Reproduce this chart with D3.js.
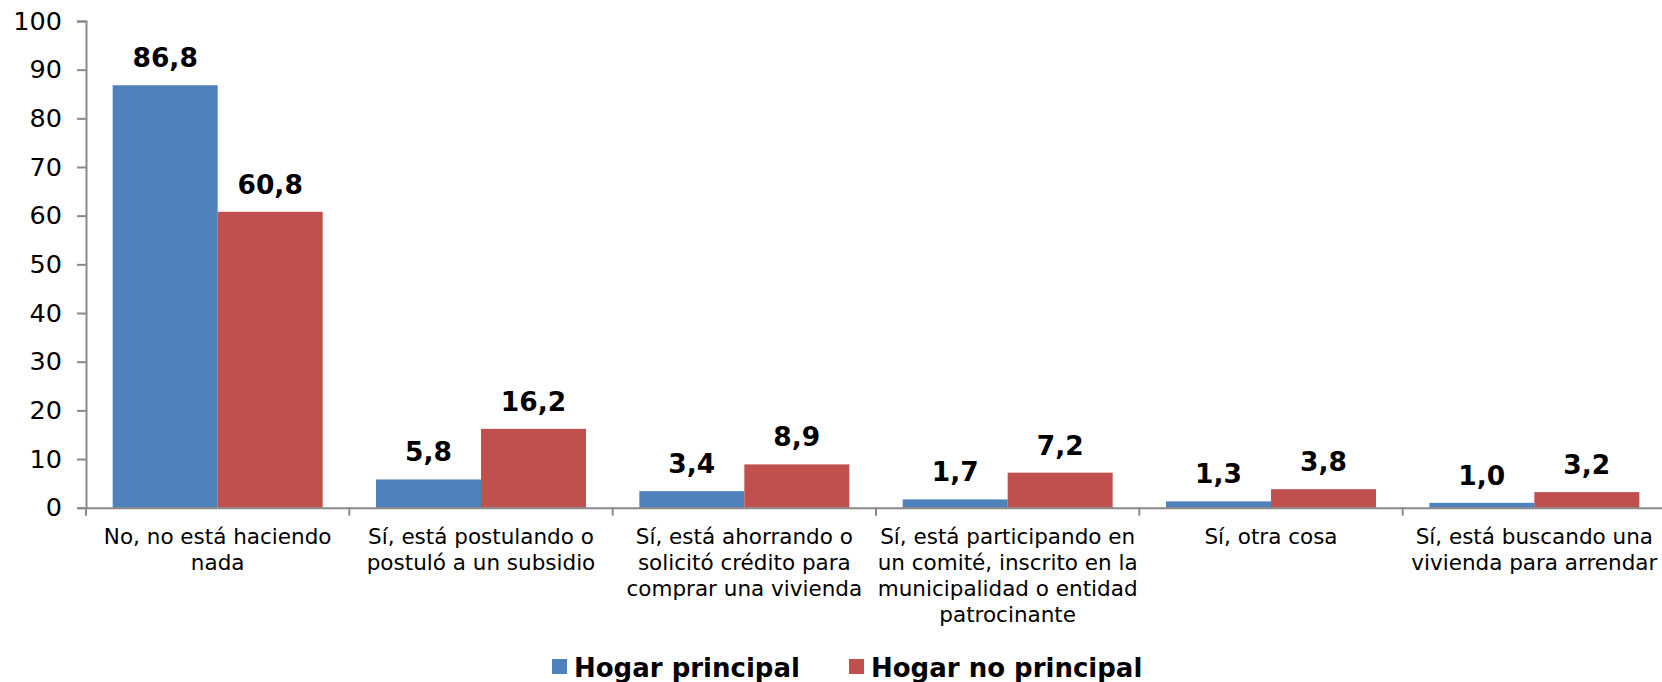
<!DOCTYPE html>
<html>
<head>
<meta charset="utf-8">
<script src="https://cdn.jsdelivr.net/npm/d3@7"></script>
<style>
  html, body { margin: 0; padding: 0; background: #fff; }
  svg { display: block; }
  text { font-family: "DejaVu Sans", Verdana, sans-serif; fill: #000; }
</style>
</head>
<body>
<svg id="chart" width="1662" height="682"></svg>
<script>
const categories = [
  "No, no está haciendo\nnada",
  "Sí, está postulando o\npostuló a un subsidio",
  "Sí, está ahorrando o\nsolicitó crédito para\ncomprar una vivienda",
  "Sí, está participando en\nun comité, inscrito en la\nmunicipalidad o entidad\npatrocinante",
  "Sí, otra cosa",
  "Sí, está buscando una\nvivienda para arrendar"
];
const seriesNames = ["Hogar principal", "Hogar no principal"];
const hogarPrincipal = [86.8, 5.8, 3.4, 1.7, 1.3, 1.0];
const hogarNoPrincipal = [60.8, 16.2, 8.9, 7.2, 3.8, 3.2];
const yTicks = [0, 10, 20, 30, 40, 50, 60, 70, 80, 90, 100];
const colors = ["#4F81BD", "#C0504D"];

const seriesValues = [hogarPrincipal, hogarNoPrincipal];
const svg = d3.select("#chart");
const axisColor = "#898989";

const x0 = d3.scaleBand().domain(categories).range([86, 1666]).paddingInner(0).paddingOuter(0);
const x1 = d3.scaleBand().domain(seriesNames).range([0, x0.bandwidth()]).paddingInner(0).paddingOuter(0.254);
const y = d3.scaleLinear().domain([0, 100]).range([507.7, 21]);

const fmt = v => v.toFixed(1).replace(".", ",");

// bars
const groups = svg.append("g").selectAll("g")
  .data(categories)
  .join("g")
  .attr("transform", d => `translate(${x0(d)},0)`);

groups.selectAll("rect")
  .data((d, i) => seriesNames.map((s, j) => ({ s, v: seriesValues[j][i], j })))
  .join("rect")
  .attr("x", d => x1(d.s))
  .attr("y", d => y(d.v))
  .attr("width", x1.bandwidth())
  .attr("height", d => y(0) - y(d.v))
  .attr("fill", d => colors[d.j]);

groups.selectAll("text.val")
  .data((d, i) => seriesNames.map((s, j) => ({ s, v: seriesValues[j][i], j })))
  .join("text")
  .attr("class", "val")
  .attr("x", d => x1(d.s) + x1.bandwidth() / 2)
  .attr("y", d => y(d.v) - 18)
  .attr("text-anchor", "middle")
  .style("font-size", "26.5px")
  .style("font-weight", "bold")
  .text(d => fmt(d.v));

// y axis
const yAxis = svg.append("g")
  .attr("transform", "translate(86,0)")
  .call(d3.axisLeft(y).tickValues(yTicks).tickSize(9).tickPadding(15).tickFormat(d3.format("d")));
yAxis.select(".domain").attr("stroke", axisColor).attr("stroke-width", 2);
yAxis.selectAll(".tick line").attr("stroke", axisColor).attr("stroke-width", 2);
yAxis.selectAll(".tick text").style("font-size", "25.5px").attr("fill", "#000")
  .style("font-family", "'DejaVu Sans', Verdana, sans-serif");

// x axis
const xAxis = svg.append("g")
  .attr("transform", `translate(0,${y(0)})`)
  .call(d3.axisBottom(x0).tickSize(0).tickFormat(""));
xAxis.select(".domain").attr("stroke", axisColor).attr("stroke-width", 2);
xAxis.selectAll(".tick").remove();

const boundaries = categories.map(c => x0(c)).concat([x0.range()[1]]);
xAxis.selectAll("line.bt")
  .data(boundaries)
  .join("line")
  .attr("class", "bt")
  .attr("x1", d => d).attr("x2", d => d)
  .attr("y1", 0).attr("y2", 8)
  .attr("stroke", axisColor).attr("stroke-width", 2);

// category labels
const catLabels = svg.append("g").selectAll("text")
  .data(categories)
  .join("text")
  .attr("x", d => x0(d) + x0.bandwidth() / 2)
  .attr("y", y(0) + 36)
  .attr("text-anchor", "middle")
  .style("font-size", "21.5px");
catLabels.each(function(d) {
  const t = d3.select(this);
  d.split("\n").forEach((line, i) => {
    t.append("tspan")
      .attr("x", x0(d) + x0.bandwidth() / 2)
      .attr("dy", i === 0 ? 0 : 26)
      .text(line);
  });
});

// legend
const legendX = [552, 849];
const legend = svg.append("g").selectAll("g")
  .data(seriesNames)
  .join("g")
  .attr("transform", (d, i) => `translate(${legendX[i]},0)`);
legend.append("rect")
  .attr("x", 0).attr("y", 659)
  .attr("width", 15).attr("height", 15)
  .attr("fill", (d, i) => colors[i]);
legend.append("text")
  .attr("x", 22).attr("y", 677)
  .style("font-size", "26px")
  .style("font-weight", "bold")
  .text(d => d);
</script>
</body>
</html>
